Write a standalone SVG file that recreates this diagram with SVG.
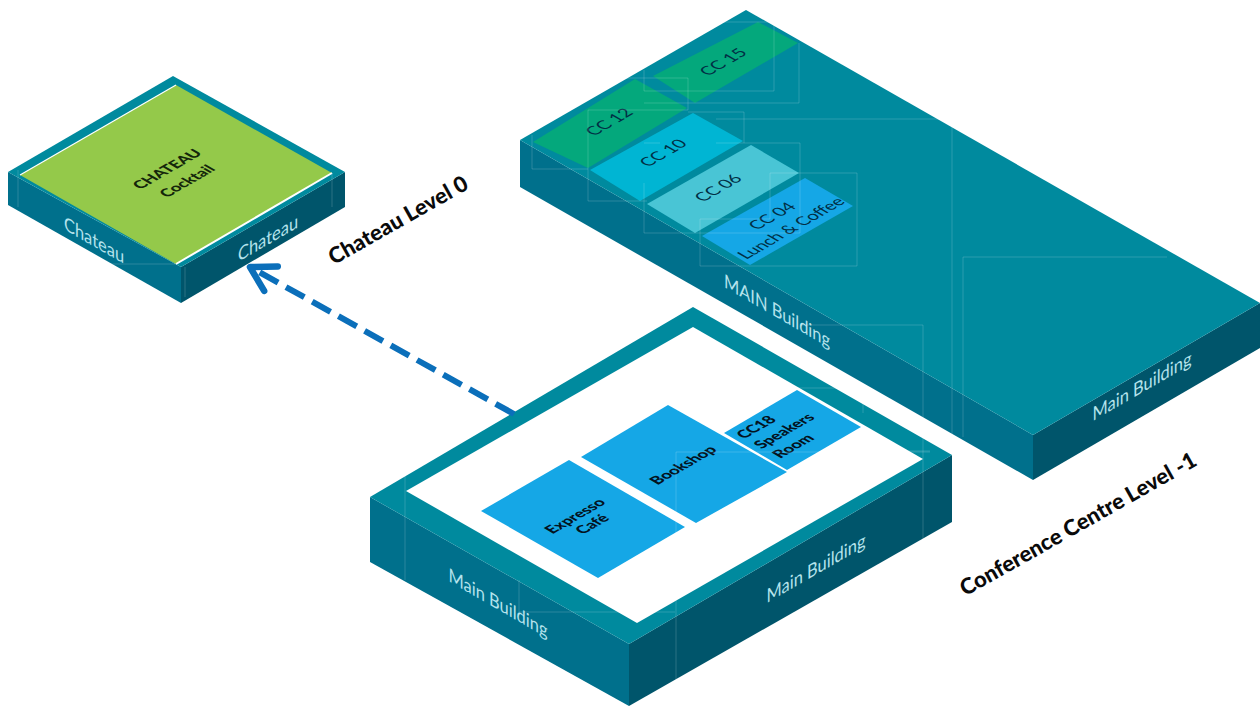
<svg xmlns="http://www.w3.org/2000/svg" width="1260" height="706" viewBox="0 0 1260 706">
<style>
.top{fill:#008a9e}.left{fill:#00708c}.right{fill:#00556b}
.room{fill:#15a7e6}.g{fill:#04a87c}
.faint{fill:none;stroke:#fff;stroke-opacity:.17;stroke-width:1}
text{font-family:"Lato","Open Sans","Liberation Sans",sans-serif;text-anchor:middle}
.side{font-size:19px;fill:#b5e3ec}
.cc{font-size:17px;fill:#012f45}
.b{font-size:15.5px;font-weight:900;fill:#03131f}
.lvl{font-size:22px;font-weight:900;fill:#0a0a0a}
</style>
<defs>
<marker id="head" markerUnits="userSpaceOnUse" markerWidth="44" markerHeight="44" refX="36" refY="20" orient="auto" overflow="visible">
<path d="M12,6L36,20L12,34" fill="none" stroke="#0b6fba" stroke-width="6.5" stroke-linecap="round" stroke-linejoin="round"/>
</marker>
</defs>
<rect width="1260" height="706" fill="#fff"/>
<g id="chateau">
<polygon class="left" points="8,172 181,267 181,303 8,205"/>
<polygon class="right" points="181,267 345,172 345,207 181,303"/>
<polygon class="top" points="173,76 345,172 181,267 8,172"/>
<polygon fill="#94c94a" points="176,85 332,173 176,264 20,175"/>
<polyline points="20,175 176,85" fill="none" stroke="#fff" stroke-width="1.2"/>
<polyline points="176,264 332,173" fill="none" stroke="#fff" stroke-width="2"/>
<text class="b" style="fill:#14260a" transform="matrix(.866,-.5,.866,.5,167,169)" dy=".35em">CHATEAU</text>
<text class="b" style="fill:#14260a" transform="matrix(.866,-.5,.866,.5,187,181)" dy=".35em">Cocktail</text>
<text class="side" transform="matrix(.866,.5,0,1,94,240)" dy=".35em">Chateau</text>
<text class="side" transform="matrix(.866,-.5,0,1,268,238)" dy=".35em">Chateau</text>
</g>
<g id="main-building-upper">
<polygon class="left" points="520,140 1033,435 1033,480 520,187"/>
<polygon class="right" points="1033,435 1260,303 1260,348 1033,480"/>
<polygon class="top" points="746,10 1260,303 1033,435 520,140"/>
<text class="side" transform="matrix(.866,.5,0,1,777,311)" dy=".35em">MAIN Building</text>
<text class="side" transform="matrix(.866,-.5,0,1,1142,386)" dy=".35em">Main Building</text>
<g id="cc15"><polygon class="g" points="653,76 758,22 798,43 695,103"/>
<text class="cc" transform="matrix(.866,-.5,.866,.5,723,62)" dy=".35em">CC 15</text></g>
<g id="cc12"><polygon class="g" points="533,142 635,79 687,108 588,168"/>
<text class="cc" transform="matrix(.866,-.5,.866,.5,609,122)" dy=".35em">CC 12</text></g>
<g id="cc10"><polygon fill="#00b5d3" points="590,170 693,113 743,141 640,201"/>
<text class="cc" transform="matrix(.866,-.5,.866,.5,663,153)" dy=".35em">CC 10</text></g>
<g id="cc06"><polygon fill="#49c5d5" points="647,204 751,145 799,173 695,233"/>
<text class="cc" transform="matrix(.866,-.5,.866,.5,718,188)" dy=".35em">CC 06</text></g>
<g id="cc04"><polygon class="room" points="702,236 805,178 853,206 750,265"/>
<text class="cc" transform="matrix(.866,-.5,.866,.5,772,216)" dy=".35em">CC 04</text>
<text class="cc" transform="matrix(.866,-.5,.866,.5,791,228)" dy=".35em">Lunch &amp; Coffee</text></g>
</g>
<g id="main-building-lower">
<polygon class="left" points="370,497 629,644 629,706 370,562"/>
<polygon class="right" points="629,644 952,455 952,522 629,706"/>
<polygon class="top" points="693,307 952,455 629,644 370,497"/>
<polygon fill="#fff" points="693,327 923,459 637,623 406,491"/>
<text class="side" transform="matrix(.866,.5,0,1,498,603)" dy=".35em">Main Building</text>
<text class="side" transform="matrix(.866,-.5,0,1,816,568)" dy=".35em">Main Building</text>
<g id="expresso"><polygon class="room" points="481,511 569,460 685,527 598,578"/>
<text class="b" transform="matrix(.866,-.5,.866,.5,575,516)" dy=".35em">Expresso</text>
<text class="b" transform="matrix(.866,-.5,.866,.5,592,524)" dy=".35em">Café</text></g>
<g id="bookshop"><polygon class="room" points="581,457 668,405 787,472 696,523"/>
<text class="b" transform="matrix(.866,-.5,.866,.5,683,465)" dy=".35em">Bookshop</text></g>
<g id="cc18"><polygon class="room" points="724,433 797,390 861,427 787,470"/>
<text class="b" transform="matrix(.866,-.5,.866,.5,756,427)" dy=".35em">CC18</text>
<text class="b" transform="matrix(.866,-.5,.866,.5,784,431)" dy=".35em">Speakers</text>
<text class="b" transform="matrix(.866,-.5,.866,.5,793,446)" dy=".35em">Room</text></g>
</g>
<g id="level-labels">
<text class="lvl" transform="translate(398,220) rotate(-29.5)" dy=".35em">Chateau Level 0</text>
<text class="lvl" transform="translate(1078,524) rotate(-29.5)" dy=".35em">Conference Centre Level -1</text>
</g>
<g id="connectors">
<line x1="514" y1="414" x2="250" y2="267" stroke="#0b6fba" stroke-width="6" stroke-dasharray="21 9" marker-end="url(#head)"/>
</g>
<g id="faint-outlines">
<path class="faint" d="M18,170V207M332,173V207M18,264H176M185,267V297"/>
<path class="faint" d="M644,91V70M653,22H774V91H644M644,103H799V43M588,78H688V110H588V169M532,135V169H588M588,201H647M588,169V201M644,143H660M644,183V233H800V143H716M716,119H952V437M688,112H744V143M700,219V266H857V173H770V219H700"/>
<path class="faint" d="M963,437V257H1167M800,325H923V540M900,451H930M405,473V580M519,580V612H675M676,680V452H930M796,388H863V413"/>
</g>
</svg>
